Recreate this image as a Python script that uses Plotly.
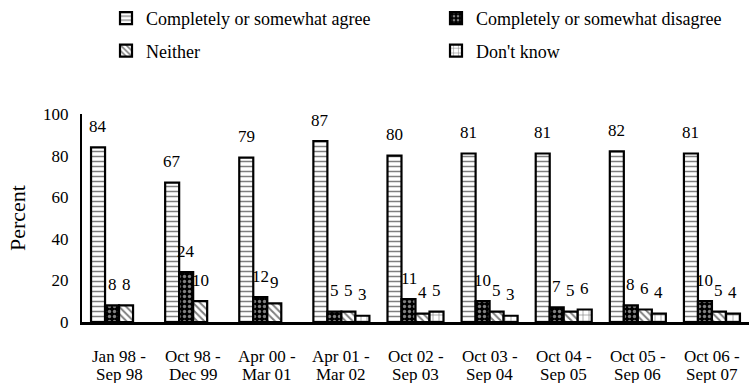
import plotly.graph_objects as go

# Survey periods (two-line category labels)
period_start = ["Jan 98 -", "Oct 98 -", "Apr 00 -", "Apr 01 -", "Oct 02 -",
                "Oct 03 -", "Oct 04 -", "Oct 05 -", "Oct 06 -"]
period_end = ["Sep 98", "Dec 99", "Mar 01", "Mar 02", "Sep 03",
              "Sep 04", "Sep 05", "Sep 06", "Sept 07"]

# Percent of respondents per answer
agree = [84, 67, 79, 87, 80, 81, 81, 82, 81]
disagree = [8, 24, 12, 5, 11, 10, 7, 8, 10]
neither = [8, 10, 9, 5, 4, 5, 5, 6, 5]
dont_know = [None, None, None, 3, 5, 3, 6, 4, 4]

series_names = ["Completely or somewhat agree", "Completely or somewhat disagree",
                "Neither", "Don't know"]
series_values = [agree, disagree, neither, dont_know]

FONT = "'Liberation Serif', 'Times New Roman', Times, serif"
W, H = 749, 383
M_L, M_R, M_T, M_B = 82, 0, 114, 61
BARGAP = 0.244

patterns = [
    dict(shape="-", bgcolor="white", fgcolor="black", size=5, solidity=0.3),
    dict(shape=".", bgcolor="black", fgcolor="white", size=5, solidity=0.35),
    dict(shape="\\", bgcolor="white", fgcolor="black", size=5, solidity=0.4),
    dict(shape="+", bgcolor="white", fgcolor="black", size=6, solidity=0.2),
]
legend_ids = ["legend", "legend2", "legend", "legend2"]

idx = list(range(len(period_start)))

fig = go.Figure()
for k, (name, vals) in enumerate(zip(series_names, series_values)):
    fig.add_trace(go.Bar(
        x=idx, y=vals, name=name,
        marker=dict(color="white", pattern=patterns[k],
                    line=dict(color="black", width=2.2)),
        legend=legend_ids[k], legendgroup=name,
    ))

# value labels above each bar
n_series = len(series_values)
bar_w = (1 - BARGAP) / n_series
annotations = []
for k, vals in enumerate(series_values):
    off = (k - (n_series - 1) / 2) * bar_w
    for i, v in enumerate(vals):
        if v is None:
            continue
        annotations.append(dict(
            x=i + off, y=v, xref="x", yref="y", text=str(v), showarrow=False,
            yanchor="middle", yshift=21, font=dict(family=FONT, size=17, color="black")))

# two-row category labels under the axis
for i in idx:
    for text, shift in ((period_start[i], -34), (period_end[i], -52)):
        annotations.append(dict(
            x=i, y=0, xref="x", yref="paper", text=text, showarrow=False,
            yanchor="middle", yshift=shift,
            font=dict(family=FONT, size=17, color="black")))

# y-axis title
annotations.append(dict(
    x=0, y=0.5, xref="paper", yref="paper", text="Percent", showarrow=False,
    textangle=-90, xanchor="center", yanchor="middle", xshift=-65,
    font=dict(family=FONT, size=22, color="black")))

legend_style = dict(
    xref="container", yref="container", orientation="v",
    xanchor="left", yanchor="top", bgcolor="rgba(0,0,0,0)",
    font=dict(family=FONT, size=18, color="black"),
    tracegroupgap=6, itemwidth=30,
)

fig.update_layout(
    width=W, height=H,
    margin=dict(l=M_L, r=M_R, t=M_T, b=M_B, autoexpand=False),
    paper_bgcolor="white", plot_bgcolor="white",
    barmode="group", bargap=BARGAP, bargroupgap=0,
    showlegend=True,
    legend=dict(x=106 / W, y=1 + 2 / H, **legend_style),
    legend2=dict(x=436 / W, y=1 + 2 / H, **legend_style),
    font=dict(family=FONT, size=17, color="black"),
    annotations=annotations,
    xaxis=dict(
        type="linear", range=[-0.5, len(idx) - 0.5], showticklabels=False,
        showgrid=False, zeroline=False, showline=True, linecolor="black",
        linewidth=2.5, ticks="", automargin=False,
    ),
    yaxis=dict(
        range=[0, 100], tickvals=[0, 20, 40, 60, 80, 100],
        showgrid=False, zeroline=False, showline=True, linecolor="black",
        linewidth=2, ticks="", ticklabelstandoff=8, automargin=False,
        tickfont=dict(family=FONT, size=17, color="black"),
    ),
)

fig.write_html("out.html")
